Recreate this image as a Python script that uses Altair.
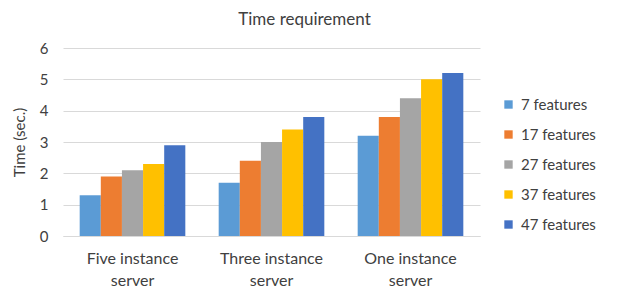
import altair as alt
import pandas as pd

groups = ["Five instance server", "Three instance server", "One instance server"]
series = ["7 features", "17 features", "27 features", "37 features", "47 features"]
values = [
    [1.3, 1.9, 2.1, 2.3, 2.9],
    [1.7, 2.4, 3.0, 3.4, 3.8],
    [3.2, 3.8, 4.4, 5.0, 5.2],
]
colors = ["#5B9BD5", "#ED7D31", "#A5A5A5", "#FFC000", "#4472C4"]

rows = []
for g, vals in zip(groups, values):
    for s, v in zip(series, vals):
        rows.append({"group": g, "series": s, "value": v})
df = pd.DataFrame(rows)

font = "Lato"
txt = "#404040"
chart = alt.Chart(df).mark_bar().encode(
    x=alt.X("group:N", sort=groups,
            scale=alt.Scale(paddingInner=0.24, paddingOuter=0.12),
            axis=alt.Axis(title=None, labelAngle=0, ticks=False, domain=True,
                          domainColor="#D9D9D9", labelFontSize=16, labelColor=txt,
                          labelFont=font, labelPadding=14, labelLineHeight=22,
                          labelExpr="[replace(datum.label, ' server', ''), 'server']")),
    xOffset=alt.XOffset("series:N", sort=series, scale=alt.Scale(paddingInner=0, paddingOuter=0)),
    y=alt.Y("value:Q", scale=alt.Scale(domain=[0, 6]),
            axis=alt.Axis(title="Time (sec.)", values=[0, 1, 2, 3, 4, 5, 6], ticks=False,
                          domain=False, grid=True, gridColor="#D9D9D9",
                          labelFontSize=15, labelColor=txt, labelFont=font,
                          labelPadding=15, titleFontSize=15, titleFont=font,
                          titleColor=txt, titleFontWeight="normal", titlePadding=12)),
    color=alt.Color("series:N", sort=series,
                    scale=alt.Scale(domain=series, range=colors),
                    legend=alt.Legend(title=None, orient="none", legendX=438, legendY=49,
                                      symbolType="square", symbolSize=70, symbolStrokeWidth=0,
                                      labelFontSize=15, labelFont=font, labelColor=txt,
                                      rowPadding=14, symbolOffset=0, labelOffset=5)),
).properties(
    width=417, height=188,
    title=alt.Title("Time requirement", fontSize=17, font=font, fontWeight="normal",
                    color=txt, dx=33, offset=12),
    autosize=alt.AutoSizeParams(type="none"),
    padding={"left": 55, "top": 40, "right": 130, "bottom": 55},
).configure_view(stroke=None)

chart.save("out.html", embed_options={"renderer": "svg", "actions": False})
